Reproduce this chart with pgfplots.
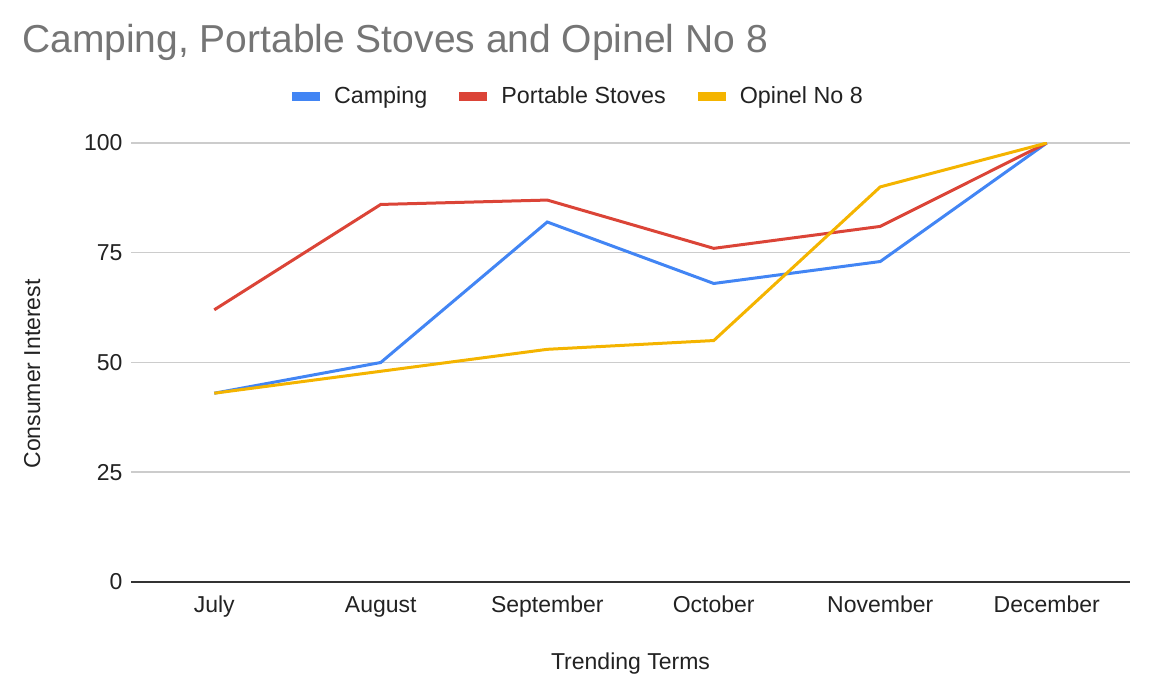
\documentclass[border=0pt]{standalone}
\usepackage{fontspec}
\setmainfont{Liberation Sans}
\usepackage{pgfplots}
\pgfplotsset{compat=1.18}
\definecolor{cblue}{HTML}{4285F4}
\definecolor{cred}{HTML}{DB4437}
\definecolor{cyellow}{HTML}{F4B400}
\definecolor{ctitle}{HTML}{757575}
\definecolor{ctext}{HTML}{222222}
\definecolor{cgrid}{HTML}{CCCCCC}
\definecolor{czero}{HTML}{333333}
\begin{document}
\begin{tikzpicture}
\useasboundingbox (0,0) rectangle (1154pt,693pt);
\begin{axis}[
  at={(131pt,111pt)}, anchor=south west,
  scale only axis, width=999pt, height=439pt,
  xmin=-0.5, xmax=5.5, ymin=0, ymax=100,
  xtick={0,1,2,3,4,5},
  xticklabels={July,August,September,October,November,December},
  ytick={0,25,50,75,100},
  extra y ticks={0}, extra y tick labels={},
  extra y tick style={grid style={color=czero, line width=2pt}},
  ymajorgrids, grid style={color=cgrid, line width=1.5pt},
  axis line style={draw=none},
  major tick length=0pt,
  /pgf/number format/assume math mode=true,
  tick label style={font=\fontsize{23}{27}\selectfont, text=ctext},
  yticklabel style={xshift=-5pt},
  xticklabel style={anchor=base, yshift=-31pt},
  legend columns=3,
  legend style={draw=none, fill=none, at={(0.161,1.107)}, anchor=west,
    inner sep=0pt, font=\fontsize{23.3}{27}\selectfont, text=ctext,
    nodes={inner sep=0pt},
    /tikz/every odd column/.append style={column sep=14pt},
    /tikz/every even column/.append style={column sep=32pt}},
  legend image code/.code={\fill[#1] (0pt,-3pt) rectangle (25pt,3pt);},
]
\addplot[cblue, line width=3pt] coordinates {(0,43) (1,50) (2,82) (3,68) (4,73) (5,100)};
\addlegendentry{Camping}
\addplot[cred, line width=3pt] coordinates {(0,62) (1,86) (2,87) (3,76) (4,81) (5,100)};
\addlegendentry{Portable Stoves}
\addplot[cyellow, line width=3pt] coordinates {(0,43) (1,48) (2,53) (3,55) (4,90) (5,100)};
\addlegendentry{Opinel No 8}
\end{axis}
\node[anchor=base west, inner sep=0pt, text=ctitle, font=\fontsize{39}{46}\selectfont] at (22pt,640pt) {Camping, Portable Stoves and Opinel No 8};
\node[anchor=base, inner sep=0pt, text=ctext, font=\fontsize{23}{27}\selectfont] at (630.5pt,23pt) {Trending Terms};
\node[anchor=base, rotate=90, inner sep=0pt, text=ctext, font=\fontsize{23}{27}\selectfont] at (40pt,319pt) {Consumer Interest};
\end{tikzpicture}
\end{document}
